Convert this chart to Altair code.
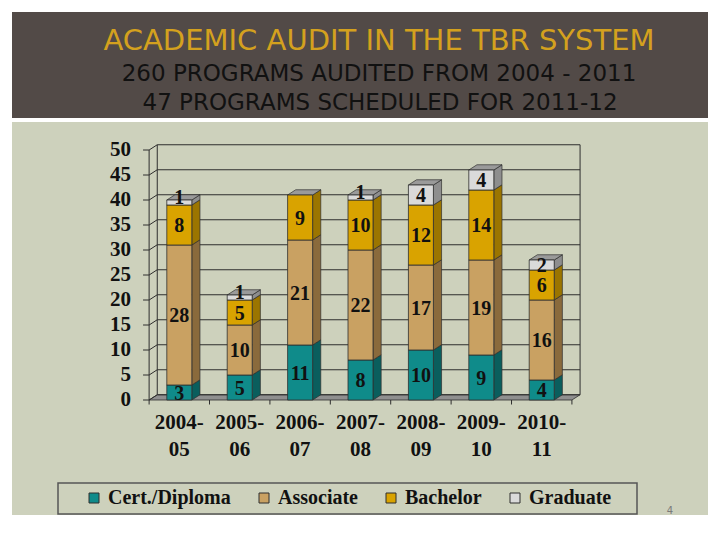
import altair as alt
import pandas as pd

# ---------------- data ----------------
years = ["2004-05", "2005-06", "2006-07", "2007-08", "2008-09", "2009-10", "2010-11"]
series = ["Cert./Diploma", "Associate", "Bachelor", "Graduate"]
cert = [3, 5, 11, 8, 10, 9, 4]
assoc = [28, 10, 21, 22, 17, 19, 16]
bach = [8, 5, 9, 10, 12, 14, 6]
grad = [1, 1, 0, 1, 4, 4, 2]
y_ticks = [0, 5, 10, 15, 20, 25, 30, 35, 40, 45, 50]
title = "ACADEMIC AUDIT IN THE TBR SYSTEM"
subtitle1 = "260 PROGRAMS AUDITED FROM 2004 - 2011"
subtitle2 = "47 PROGRAMS SCHEDULED FOR 2011-12"
page_no = "4"

# ---------------- styles ----------------
front_colors = ["#0f8b8a", "#c9a162", "#d9a300", "#dadada"]
side_colors = ["#0a5e5d", "#8a6a3c", "#9b7500", "#8e8e8e"]
top_color = "#9a9a9a"
edge = "#2e2e2e"
sage = "#cdd1bc"
band = "#524a47"
SERIF = "Liberation Serif"

HALF, DX, DY = 0.207, 0.135, 1.05   # bar half width, 3-D depth (x units, y units)
N = len(years)
X0, X1 = -0.5, N - 0.5
YMAX = max(y_ticks)

xs = alt.Scale(domain=[-2.77, 8.753], nice=False, zero=False)
ys = alt.Scale(domain=[-23.0, 55.6], nice=False, zero=False)


def X(f):
    return alt.X(f"{f}:Q", axis=None, scale=xs)


def Y(f):
    return alt.Y(f"{f}:Q", axis=None, scale=ys)


# ---------------- tables ----------------
rows, side_rows, top_rows = [], [], []
for i, yr in enumerate(years):
    base = 0
    for s, vals in zip(series, [cert, assoc, bach, grad]):
        v = vals[i]
        if v > 0:
            rows.append(dict(year=yr, i=i, series=s, value=v, start=base, end=base + v,
                             mid=base + v / 2, left=i - HALF, right=i + HALF))
            key = f"{yr}|{s}"
            side_rows.append(dict(key=key, series=s, x=i + HALF, lo=base, hi=base + v))
            side_rows.append(dict(key=key, series=s, x=i + HALF + DX, lo=base + DY, hi=base + v + DY))
        base += v
    top_rows.append(dict(key=yr, y=base, xl=i - HALF, xr=i + HALF))
    top_rows.append(dict(key=yr, y=base + DY, xl=i - HALF + DX, xr=i + HALF + DX))

seg = pd.DataFrame(rows)
side = pd.DataFrame(side_rows)
top = pd.DataFrame(top_rows)
floor = pd.DataFrame([dict(key="f", y=0, xl=X0, xr=X1), dict(key="f", y=DY, xl=X0 + DX, xr=X1 + DX)])
grid = pd.DataFrame(dict(v=y_ticks))
grid["yb"] = grid["v"] + DY
grid["xf"] = X0
grid["xt"] = X0 - 0.1
grid["xb0"] = X0 + DX
grid["xb1"] = X1 + DX
walls = pd.DataFrame([dict(x=X0, y=0, y2=YMAX), dict(x=X0 + DX, y=DY, y2=YMAX + DY),
                      dict(x=X1 + DX, y=DY, y2=YMAX + DY)])
xt = pd.DataFrame(dict(b=[k - 0.5 for k in range(N + 1)]))
xt["y"] = 0
xt["y2"] = -0.9
xl = pd.DataFrame(dict(year=years, i=list(range(N))))
one = pd.DataFrame(dict(t=[page_no]))

# ---------------- main panel layers ----------------
floor_l = alt.Chart(floor).mark_area(orient="horizontal", color="#8f8f8f", stroke=edge, strokeWidth=0.8).encode(
    y=Y("y"), x=X("xl"), x2="xr", detail="key:N")
grid_l = alt.Chart(grid).mark_rule(color=edge, strokeWidth=1).encode(x=X("xb0"), x2="xb1", y=Y("yb"))
slant_l = alt.Chart(grid).mark_rule(color=edge, strokeWidth=1).encode(x=X("xf"), y=Y("v"), x2="xb0", y2="yb")
tick_l = alt.Chart(grid).mark_rule(color=edge, strokeWidth=1).encode(x=X("xt"), x2="xf", y=Y("v"))
wall_l = alt.Chart(walls).mark_rule(color=edge, strokeWidth=1).encode(x=X("x"), y=Y("y"), y2="y2")
xtick_l = alt.Chart(xt).mark_rule(color=edge, strokeWidth=1).encode(x=X("b"), y=Y("y"), y2="y2")

side_l = alt.Chart(side).mark_area(orient="vertical", stroke=edge, strokeWidth=0.7).encode(
    x=X("x"), y=Y("lo"), y2="hi", detail="key:N",
    color=alt.Color("series:N", scale=alt.Scale(domain=series, range=side_colors), legend=None))
top_l = alt.Chart(top).mark_area(orient="horizontal", color=top_color, stroke=edge, strokeWidth=0.7).encode(
    y=Y("y"), x=X("xl"), x2="xr", detail="key:N")
front_l = alt.Chart(seg).mark_rect(stroke=edge, strokeWidth=0.8).encode(
    x=X("left"), x2="right", y=Y("start"), y2="end",
    color=alt.Color("series:N", scale=alt.Scale(domain=series, range=front_colors),
                    sort=series,
                    legend=alt.Legend(orient="none", legendX=72, legendY=366, direction="horizontal",
                                      title=None, symbolType="square", symbolSize=100,
                                      symbolStrokeColor=edge, symbolStrokeWidth=1,
                                      labelFont=SERIF, labelFontWeight="bold", labelFontSize=20,
                                      labelColor="#111", columnPadding=23, labelOffset=4,
                                      padding=0, symbolOpacity=1)))
seglab_l = alt.Chart(seg).transform_calculate(
    ly="datum.value <= 1 ? datum.end + 0.7 : datum.mid"
).mark_text(font=SERIF, fontWeight="bold", fontSize=20, color="#111",
            baseline="middle", align="center", dy=1).encode(
    x=X("i"), y=Y("ly"), text=alt.Text("value:Q"))
ylab_l = alt.Chart(grid).mark_text(font=SERIF, fontWeight="bold", fontSize=21, color="#111",
                                   baseline="middle", align="right", dx=-18).encode(
    x=X("xf"), y=Y("v"), text=alt.Text("v:Q"))
xlab_l = alt.Chart(xl).transform_calculate(
    lines="[slice(datum.year, 0, 5), slice(datum.year, 5)]",
    ly="-2.4"
).mark_text(font=SERIF, fontWeight="bold", fontSize=21, color="#111", baseline="top",
            align="center", lineHeight=27).encode(
    x=X("i"), y=Y("ly"), text="lines:N")
box_l = alt.Chart(one).mark_rect(fillOpacity=0, stroke="#555555", strokeWidth=1.5).encode(
    x=alt.value(46), x2=alt.value(625), y=alt.value(361), y2=alt.value(392))
page_l = alt.Chart(one).mark_text(fontSize=10, color="#7a7a7a", font="DejaVu Sans").encode(
    x=alt.value(658), y=alt.value(389), text="t:N")

main = alt.layer(
    floor_l, grid_l, wall_l, slant_l, tick_l, xtick_l,
    side_l, top_l, front_l, seglab_l, ylab_l, xlab_l, box_l, page_l
).resolve_scale(color="independent").properties(
    width=696, height=393, view=alt.ViewBackground(fill=sage, strokeWidth=0))

# ---------------- header ----------------
t1 = alt.Chart(pd.DataFrame(dict(t=[title]))).mark_text(
    font="DejaVu Sans", fontSize=29, color="#d4a11e", align="center", baseline="middle").encode(
    text="t:N", x=alt.value(367), y=alt.value(29))
t2 = alt.Chart(pd.DataFrame(dict(t=[subtitle1]))).mark_text(
    font="DejaVu Sans", fontSize=23, color="#111111", align="center", baseline="middle").encode(
    text="t:N", x=alt.value(367), y=alt.value(62))
t3 = alt.Chart(pd.DataFrame(dict(t=[subtitle2]))).mark_text(
    font="DejaVu Sans", fontSize=23, color="#111111", align="center", baseline="middle").encode(
    text="t:N", x=alt.value(368), y=alt.value(90.5))
header = alt.layer(t1, t2, t3).properties(
    width=696, height=106, view=alt.ViewBackground(fill=band, strokeWidth=0))

chart = alt.vconcat(header, main, spacing=4).properties(
    padding={"left": 4, "top": 4, "right": 4, "bottom": 4}, background="white"
).configure_view(strokeWidth=0)

chart.save("out.html", embed_options={"renderer": "svg", "actions": False})
